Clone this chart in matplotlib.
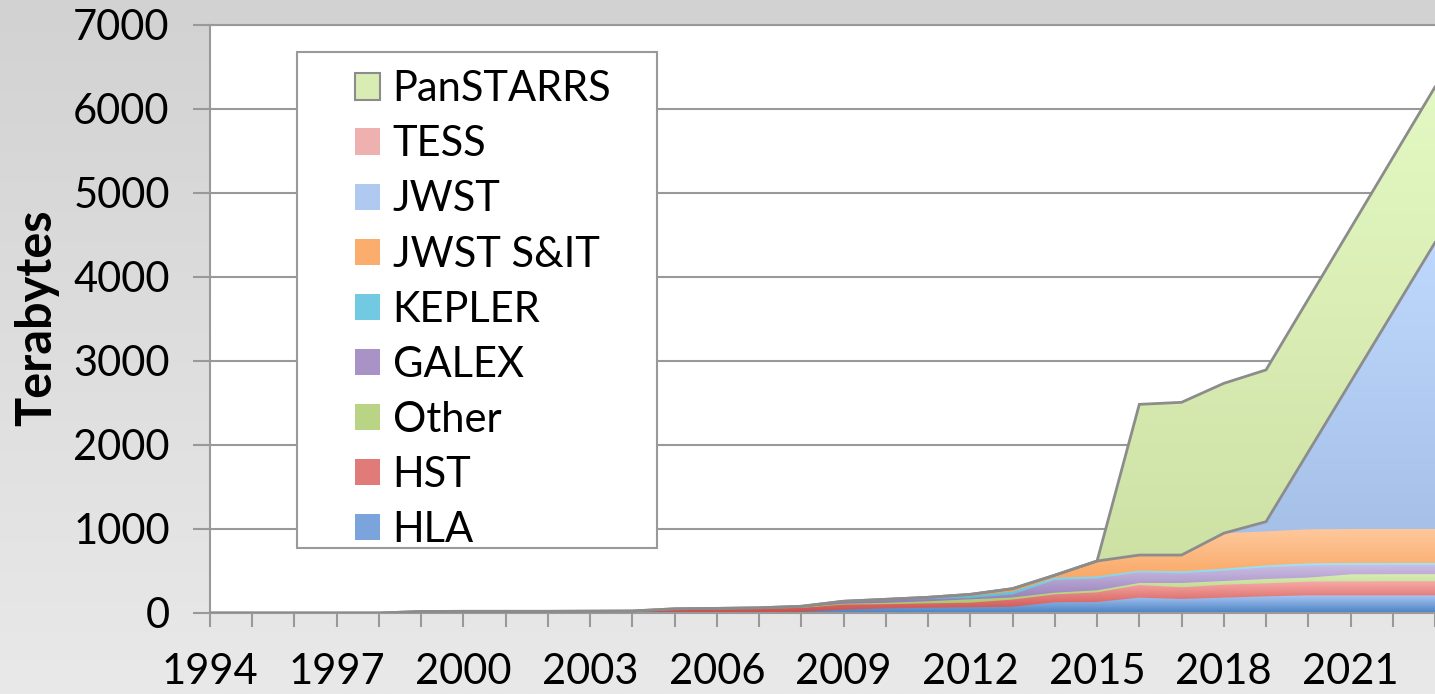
import numpy as np
import matplotlib
matplotlib.use("Agg")
import matplotlib.pyplot as plt
from matplotlib.colors import LinearSegmentedColormap
from matplotlib.patches import Patch, Rectangle

plt.rcParams['font.family'] = ['Lato', 'DejaVu Sans']

# ---------------- data (Terabytes per year, stacked bottom -> top) ----------------
years = list(range(1994, 2024))
HLA = [0] * 14 + [15, 40, 55, 62, 68, 75, 127, 131, 183, 167, 183, 198, 210, 210, 210, 210]
HST = [0, 0, 0, 0, 0, 18, 20, 20, 20, 22, 24, 40, 45, 50, 45, 60, 50, 53, 55, 85,
       95, 115, 150, 139, 154, 155, 163, 167, 168, 168]
Other = [0] * 11 + [5, 5, 5, 8, 10, 17, 25, 40, 25, 20, 24, 24, 51, 44, 52, 48, 83, 84, 84]
GALEX = [0] * 11 + [5, 5, 7, 7, 20, 25, 25, 15, 35, 151, 143, 127, 115, 123, 139, 146, 111, 111, 111]
KEPLER = [0] * 15 + [5, 8, 12, 24, 35, 27, 24, 20, 24, 24, 23, 24, 24, 23, 23]
JWST_SIT = [0] * 14 + [5, 5, 8, 10, 20, 35, 30, 182, 186, 194, 422, 405, 405, 405, 404, 404]
JWST = [0] * 25 + [103, 906, 1733, 2564, 3395]
TESS = [0] * 25 + [12, 15, 15, 15, 15]
PanSTARRS = [0] * 22 + [1794, 1818, 1784, 1807, 1819, 1830, 1841, 1852]

series_names = ["HLA", "HST", "Other", "GALEX", "KEPLER", "JWST S&IT", "JWST", "TESS", "PanSTARRS"]
series_values = [HLA, HST, Other, GALEX, KEPLER, JWST_SIT, JWST, TESS, PanSTARRS]
# (top colour, bottom colour) of each gradient fill
series_colors = [
    ("#a9c6f3", "#4a82c2"),
    ("#f8aaa8", "#c94c49"),
    ("#d8edb3", "#9cbb58"),
    ("#cdbfe4", "#8467a8"),
    ("#a3e5f8", "#40aecb"),
    ("#fec89c", "#f7923f"),
    ("#bed8fd", "#9fbae2"),
    ("#fcc4c4", "#e29c9c"),
    ("#e4f8c3", "#cbdfa2"),
]
y_ticks = list(range(0, 7001, 1000))

# ---------------- figure ----------------
W, H = 1435, 694
fig = plt.figure(figsize=(W / 100, H / 100), dpi=100)

bg = fig.add_axes([0, 0, 1, 1], zorder=-10)
bg.axis('off')
bg.imshow(np.linspace(0, 1, 256).reshape(-1, 1), aspect='auto', extent=[0, 1, 0, 1],
          cmap=LinearSegmentedColormap.from_list('bg', ['#d2d2d2', '#e9e9e9']))

ax = fig.add_axes([210 / W, 81 / H, 1225 / W, 588 / H])
ax.set_facecolor('white')

x = np.array(years, dtype=float)
cum = np.cumsum(np.array(series_values, dtype=float), axis=0)
grad = np.linspace(0, 1, 256).reshape(-1, 1)
n = len(series_names)

for i in reversed(range(n)):
    top = cum[i]
    poly = ax.fill_between(x, 0, top, facecolor='none', edgecolor='none')
    path = poly.get_paths()[0]
    ctop, cbot = series_colors[i]
    cmap = LinearSegmentedColormap.from_list(series_names[i], [cbot, ctop])
    im = ax.imshow(grad, cmap=cmap, origin='lower', aspect='auto', interpolation='bilinear',
                   extent=[x[0], x[-1], 0, top.max()], zorder=2 + (n - i) * 0.01)
    im.set_clip_path(path, transform=ax.transData)

# PanSTARRS border (top and bottom of its area)
ax.plot(x, cum[-1], color='#8c8c8c', lw=2.0, zorder=3, solid_joinstyle='miter')
ax.plot(x, cum[-2], color='#8c8c8c', lw=2.0, zorder=3, solid_joinstyle='miter')

ax.set_xlim(years[0], years[-1])
ax.set_ylim(0, 7000)

gray = '#999999'
ax.set_axisbelow(True)
ax.yaxis.grid(True, color=gray, linewidth=1.5)
for s in ['left', 'bottom', 'top']:
    ax.spines[s].set_color(gray)
    ax.spines[s].set_linewidth(1.5)
ax.spines['right'].set_visible(False)

ax.set_yticks(y_ticks)
ax.set_yticklabels([str(v) for v in y_ticks])
ax.set_xticks(years)
ax.set_xticklabels([str(y) if (y - 1994) % 3 == 0 else '' for y in years])
ax.tick_params(axis='y', length=12, width=1.5, color=gray, labelsize=30, pad=17)
ax.tick_params(axis='x', length=10, width=1.5, color=gray, labelsize=30, pad=19)

fig.text(37 / W, 1 - 318 / H, 'Terabytes', rotation=90, ha='center', va='center',
         fontsize=35, fontweight='bold')

# legend
frame = Rectangle((0.0710, 0.1105), 0.2939, 0.8435, transform=ax.transAxes,
                  facecolor='white', edgecolor=gray, lw=1.5, zorder=4)
ax.add_patch(frame)
handles = []
for i in reversed(range(n)):
    ctop, cbot = series_colors[i]
    mid = tuple((np.array(matplotlib.colors.to_rgb(ctop)) + np.array(matplotlib.colors.to_rgb(cbot))) / 2)
    handles.append(Patch(facecolor=mid, edgecolor='#8c8c8c' if series_names[i] == 'PanSTARRS' else 'none',
                         linewidth=1.5))
leg = ax.legend(handles, list(reversed(series_names)), loc='upper left',
                bbox_to_anchor=(0.1184, 0.923), frameon=False, fontsize=30,
                handlelength=0.6, handleheight=0.6, handletextpad=0.3,
                labelspacing=0.41, borderpad=0, borderaxespad=0)
leg.set_zorder(5)

fig.savefig('out.png', dpi=100)
